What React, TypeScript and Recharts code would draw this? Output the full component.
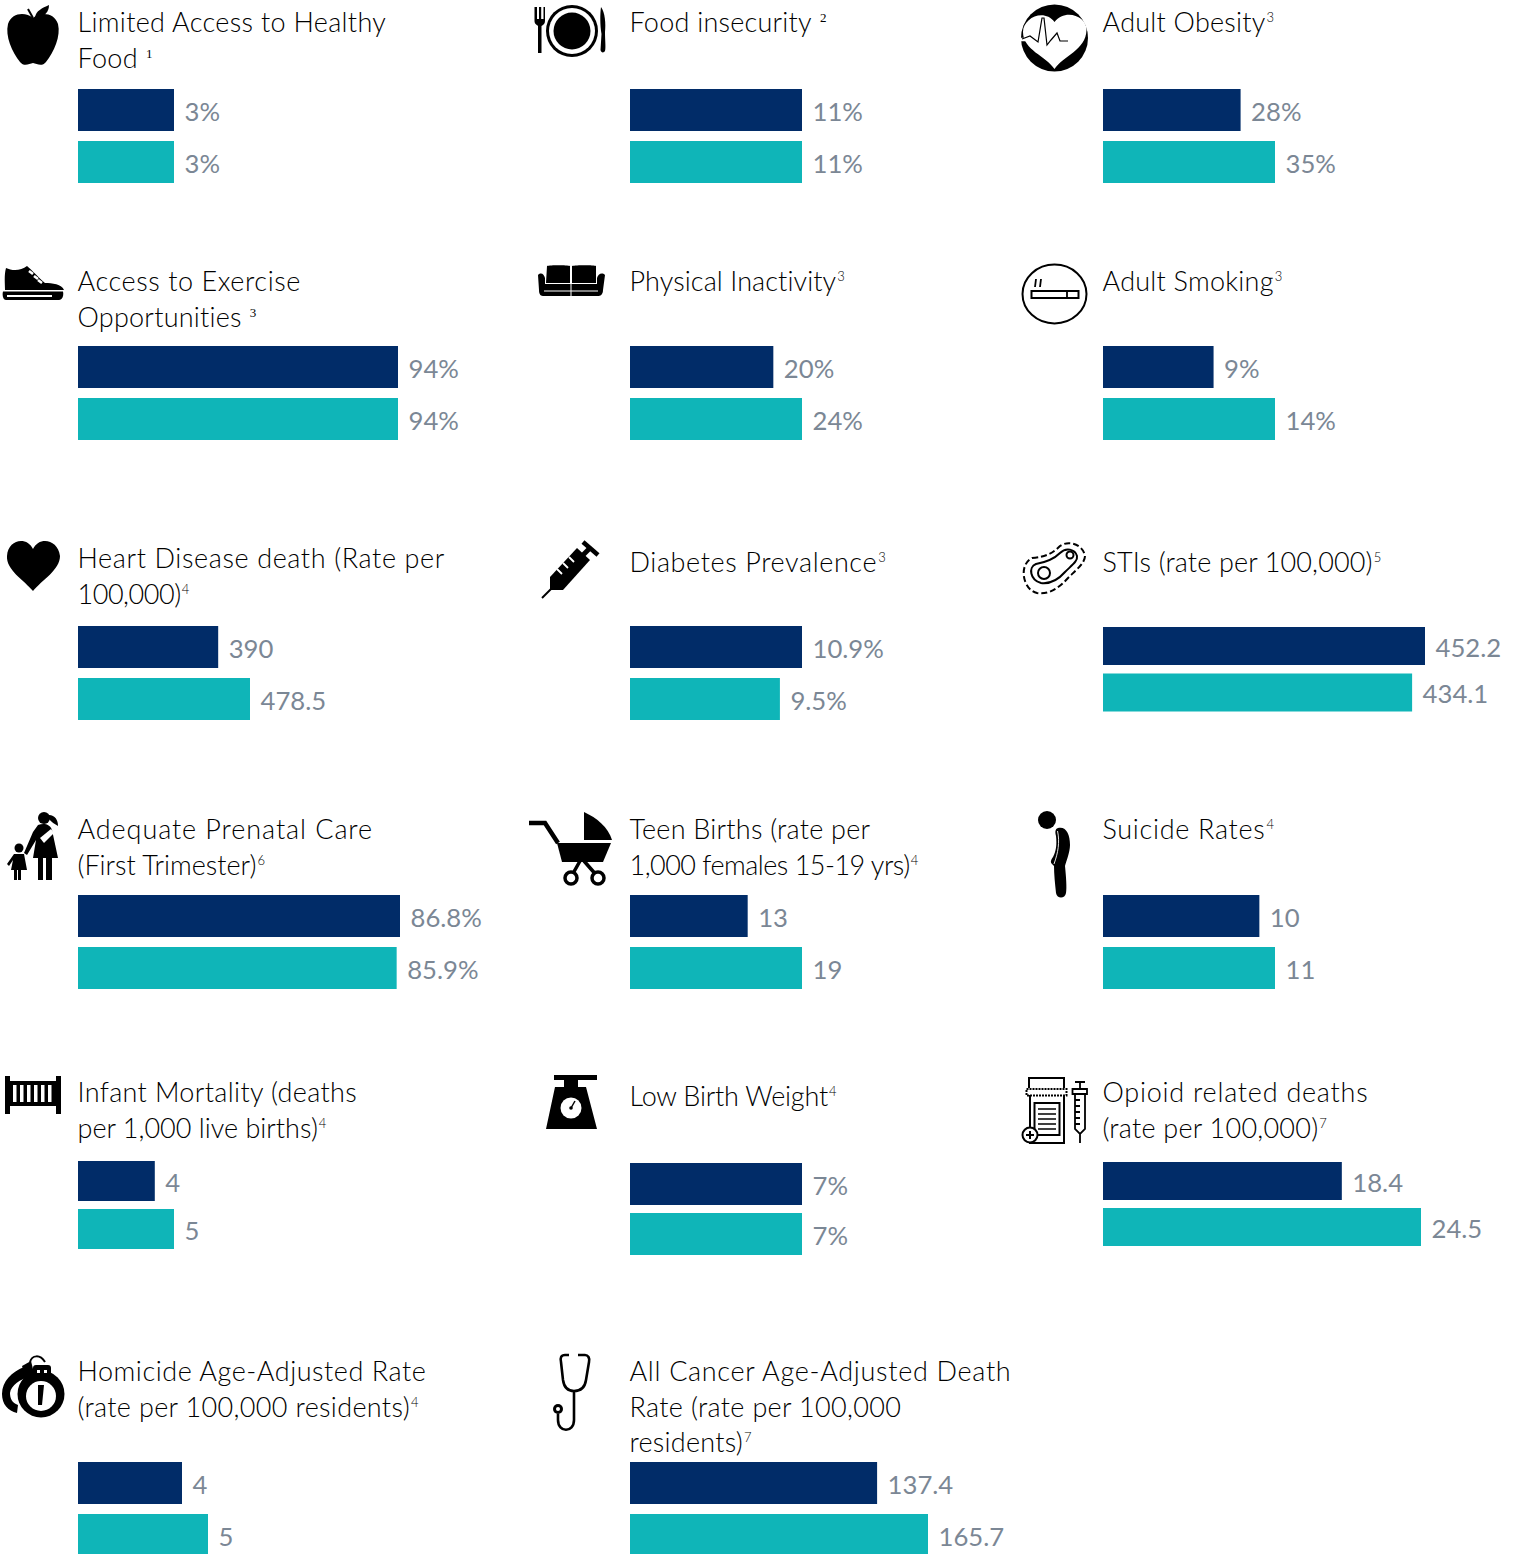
import React from 'react';
import { BarChart, Bar, Cell, XAxis, YAxis, LabelList } from 'recharts';

const measures = [
  'food', 'insecurity', 'obesity', 'exercise', 'inactivity', 'smoking', 'heart', 'diabetes', 'stis',
  'prenatal', 'teen', 'suicide', 'infant', 'lowbirth', 'opioid', 'homicide', 'cancer',
];
const titleLines = [
  ['Limited Access to Healthy', 'Food'], ['Food insecurity'], ['Adult Obesity'],
  ['Access to Exercise', 'Opportunities'], ['Physical Inactivity'], ['Adult Smoking'],
  ['Heart Disease death (Rate per', '100,000)'], ['Diabetes Prevalence'], ['STIs (rate per 100,000)'],
  ['Adequate Prenatal Care', '(First Trimester)'], ['Teen Births (rate per', '1,000 females 15-19 yrs)'], ['Suicide Rates'],
  ['Infant Mortality (deaths', 'per 1,000 live births)'], ['Low Birth Weight'], ['Opioid related deaths', '(rate per 100,000)'],
  ['Homicide Age-Adjusted Rate', '(rate per 100,000 residents)'], ['All Cancer Age-Adjusted Death', 'Rate (rate per 100,000', 'residents)'],
];
const footnotes = ['1', '2', '3', '3', '3', '3', '4', '3', '5', '6', '4', '4', '4', '4', '7', '4', '7'];
const spacedNote = [true, true, false, true, false, false, false, false, false, false, false, false, false, false, false, false, false];
const firstSeries = [3, 11, 28, 94, 20, 9, 390, 10.9, 452.2, 86.8, 13, 10, 4, 7, 18.4, 4, 137.4];
const secondSeries = [3, 11, 35, 94, 24, 14, 478.5, 9.5, 434.1, 85.9, 19, 11, 5, 7, 24.5, 5, 165.7];
const units = ['%', '%', '%', '%', '%', '%', '', '%', '', '%', '', '', '', '%', '', '', ''];

// Layout, one row per measure: column x, first title line centre, first bar top, bar height, bar pitch, longest bar px
const layout: number[][] = [
  [78, 22, 89, 42, 52, 96], [630, 22, 89, 42, 52, 172], [1103, 22, 89, 42, 52, 172],
  [78, 281, 346, 42, 52, 320], [630, 281, 346, 42, 52, 172], [1103, 281, 346, 42, 52, 172],
  [78, 558, 626, 42, 52, 172], [630, 562, 626, 42, 52, 172], [1103, 562, 627, 38, 46.5, 322],
  [78, 829, 895, 42, 52, 322], [630, 829, 895, 42, 52, 172], [1103, 829, 895, 42, 52, 172],
  [78, 1092, 1161, 40, 48, 96], [630, 1096, 1163, 42, 50, 172], [1103, 1092, 1162, 38, 46, 318],
  [78, 1371, 1462, 42, 52, 130], [630, 1371, 1462, 42, 52, 298],
];
// Per-line letter spacing, to bring the installed font to the reference's line widths
const tracking: number[][] = [
  [0.32, 0.34], [0.24], [0.24],
  [0.57, 0.24], [0.09], [0.24],
  [0.62, -0.46], [0.61], [0.14],
  [0.92, -0.01], [0.24, -0.51], [0.7],
  [0.36, 0.01], [-0.2], [0.76, 0.24],
  [0.54, 0.34], [0.69, 0.34, 0.24],
];

const NAVY = '#012c68';
const TEAL = '#0fb5b8';
const LABEL = '#7b8795';
const TEXT = '#000000';

function ValueLabel(p: any, unit: string) {
  return (
    <text
      x={p.x + p.width + 10.5}
      y={p.y + p.height / 2 + 0.8}
      dominantBaseline="central"
      fontFamily="Lato"
      fontSize={25.7}
      fill={LABEL}
    >
      {`${p.value}${unit}`}
    </text>
  );
}

function Panel({ i }: { i: number }) {
  const [x, , top, h, pitch, plot] = layout[i];
  const unit = units[i];
  const rows = [
    { name: 'first', value: firstSeries[i] },
    { name: 'second', value: secondSeries[i] },
  ];
  const gap = pitch - h;
  const max = Math.max(firstSeries[i], secondSeries[i]);
  return (
    <div style={{ position: 'absolute', left: x, top: top - gap / 2 }}>
      <BarChart
        width={plot + 130}
        height={pitch * 2}
        data={rows}
        layout="vertical"
        margin={{ top: 0, right: 130, bottom: 0, left: 0 }}
        barSize={h}
      >
        <XAxis type="number" domain={[0, max]} hide />
        <YAxis type="category" dataKey="name" hide />
        <Bar dataKey="value" isAnimationActive={false}>
          <Cell fill={NAVY} />
          <Cell fill={TEAL} />
          <LabelList dataKey="value" content={(p: any) => ValueLabel(p, unit)} />
        </Bar>
      </BarChart>
    </div>
  );
}

function Title({ i }: { i: number }) {
  const [x, cy] = layout[i];
  const lines = titleLines[i];
  return (
    <div
      style={{
        position: 'absolute', left: x - 0.5, top: cy - 18, fontFamily: 'Lato', fontSize: 27, fontWeight: 300,
        lineHeight: '35.7px', color: TEXT, whiteSpace: 'nowrap',
      }}
    >
      {lines.map((l, k) => (
        <div key={k} style={{ letterSpacing: tracking[i][k] }}>
          {l}
          {k === lines.length - 1 && (
            <span
              style={{
                fontSize: 13, position: 'relative', top: -10, marginLeft: spacedNote[i] ? 8 : 1, letterSpacing: 0,
                fontFamily: spacedNote[i] ? 'Liberation Serif' : 'Lato',
              }}
            >
              {footnotes[i]}
            </span>
          )}
        </div>
      ))}
    </div>
  );
}

function Icons() {
  return (
    <svg width={1518} height={1554} style={{ position: 'absolute', left: 0, top: 0 }}>
      {/* apple */}
      <path d="M33 18C26 12 12 12 8 24C5 36 12 52 20 62C24 67 29 64 33 63C37 64 42 67 46 62C54 52 61 36 58 24C54 12 40 12 33 18Z" />
      <path d="M35 17C36 11 42 8 49 5C49 12 44 18 35 17Z" />
      <path d="M28 9L33 18" stroke="#000" strokeWidth={2} fill="none" />
      {/* plate */}
      <circle cx={572} cy={31} r={26} />
      <circle cx={572} cy={31} r={23} fill="#fff" />
      <circle cx={572} cy={31} r={18.5} />
      <path d="M534.5 7V21C534.5 24 537 25 538 26V53H541.5V26C543 25 545 24 545 21V7H543.5V19H541.2V7H539V19H537V7Z" />
      <path d="M601 7C605 12 606 24 605 32C605 40 606 48 605 51C604 53 601 53 600.5 50L601.5 34C600 25 600 14 601 7Z" />
      {/* heart in circle */}
      <circle cx={1054.5} cy={38} r={33.5} />
      <path d="M1054.5 69C1046 56 1023 50 1023 32C1023 18 1044 8 1054.5 22C1065 8 1087 16 1086.5 30C1086 50 1063 56 1054.5 69Z" fill="#fff" />
      <path d="M1020 39.5H1031" stroke="#fff" strokeWidth={3.5} />
      <path d="M1022 39L1030 36L1038 42L1042 18H1044L1047 45L1051 40L1057 33L1060 41H1068" fill="none" stroke="#000" strokeWidth={1.2} />
      {/* shoe */}
      <path d="M6 268C12 271 21 271 27 266C31 269 39 278 45 283C52 283 62 284 64 290H5C5 283 4 275 6 268Z" />
      <path d="M3 291.5H63C64 296 62 300 59 300H6C3 300 2 295 3 291.5Z" />
      <path d="M7 296H52" stroke="#fff" strokeWidth={1.8} />
      <path d="M29 271L33 274M34 276L38 279M38 280L42 283" stroke="#fff" strokeWidth={2.6} />
      {/* couch */}
      <path d="M547 266C550 265 567 265 570 266V283H546ZM572 266C576 265 594 265 596 266V283H572Z" />
      <path d="M538 275C541 272 544 274 545 278V284H597V278C598 274 602 272 605 275L603 290C603 295 600 296 598 296H544C541 296 539 295 539 290Z" />
      <path d="M544 291H598M571 284V296" stroke="#fff" strokeWidth={1} />
      {/* smoking */}
      <ellipse cx={1054.5} cy={294} rx={32} ry={29.5} fill="none" stroke="#000" strokeWidth={2} />
      <rect x={1031.5} y={291} width={47} height={7} fill="none" stroke="#000" strokeWidth={2} />
      <path d="M1067 291V298M1036 279L1035 287M1041 279L1040 287" stroke="#000" strokeWidth={1.8} />
      {/* heart */}
      <path d="M33 591C24 580 6 570 7 556C8 539 27 536 33 549C39 536 58 539 60 556C60 570 42 580 33 591Z" />
      {/* syringe */}
      <path d="M550 577L577 548L590 560L563 590H550Z" />
      <path d="M551 589L542 598" stroke="#000" strokeWidth={2} />
      <path d="M583 542L598 555" stroke="#000" strokeWidth={4.5} />
      <path d="M590 548L582 556" stroke="#000" strokeWidth={5} />
      <path d="M557 569L562 574M563 563L568 568M569 557L574 562" stroke="#fff" strokeWidth={1.8} />
      {/* meat */}
      <path d="M1036 564C1047 562 1054 559 1060 553C1066 547 1075 549 1077 556C1078 561 1072 565 1065 572C1058 580 1049 584 1041 583C1030 580 1028 567 1036 564Z" fill="none" stroke="#000" strokeWidth={2} />
      <path d="M1032 558C1046 557 1053 553 1060 546C1068 540 1083 544 1085 556C1085 563 1076 570 1068 578C1059 588 1049 595 1037 593C1023 590 1018 565 1032 558Z" fill="none" stroke="#000" strokeWidth={2} strokeDasharray="6 3" />
      <circle cx={1044} cy={573} r={6} fill="none" stroke="#000" strokeWidth={2} />
      <circle cx={1070} cy={555} r={3.5} fill="none" stroke="#000" strokeWidth={2} />
      {/* mother and child */}
      <circle cx={44} cy={818} r={6} />
      <path d="M49 815C55 815 58 820 58 826C55 824 51 822 49 819Z" />
      <path d="M38 825C44 823 50 824 52 830L58 858H33L36 840L27 855L24 853L33 832Z" />
      <path d="M38 858H43V880H38ZM46 858H52V880H46Z" />
      <path d="M40 838L51 829L54 833L44 843Z" fill="#fff" />
      <circle cx={19} cy={848} r={4.5} />
      <path d="M14 854H24L27 870H21V880H18V870H17V880H14V870H11L13 860L9 866L7 864Z" />
      {/* pram */}
      <path d="M529 823H545L558 843" fill="none" stroke="#000" strokeWidth={4.5} />
      <path d="M557 843H611L603 862H562Z" />
      <path d="M584 812C597 818 608 827 612 840H584Z" />
      <path d="M580 861L571 877M584 861L598 877" stroke="#000" strokeWidth={3.5} />
      <circle cx={571} cy={878} r={6} fill="#fff" stroke="#000" strokeWidth={3.5} />
      <circle cx={598} cy={878} r={6} fill="#fff" stroke="#000" strokeWidth={3.5} />
      {/* person */}
      <circle cx={1047} cy={820} r={9} />
      <path d="M1058 828C1066 826 1070 834 1070 845C1070 852 1066 862 1065 866C1066 876 1067 888 1066 893C1065 899 1057 899 1056 893C1055 884 1054 874 1054 866L1052 864C1050 862 1051 860 1053 857C1056 851 1057 845 1056 836C1055 832 1055 829 1058 828Z" />
      <path d="M1057.5 831C1060 842 1058 853 1054 864" fill="none" stroke="#fff" strokeWidth={0.9} />
      {/* crib */}
      <path d="M5 1076H10V1081H56V1076H61V1114H56V1106H10V1114H5Z" />
      <path d="M13 1085H16.5V1102H13ZM20 1085H23.5V1102H20ZM27 1085H30.5V1102H27ZM34 1085H37.5V1102H34ZM41 1085H44.5V1102H41ZM48 1085H51.5V1102H48Z" fill="#fff" />
      {/* scale */}
      <path d="M554 1075H597V1080H578V1087H586L597 1129H546L555 1087H564V1080H554Z" />
      <circle cx={571} cy={1108} r={10.5} fill="#fff" />
      <circle cx={571} cy={1108} r={1.8} />
      <path d="M571 1108L575 1101" stroke="#000" strokeWidth={1.5} />
      {/* opioid */}
      <path d="M1029 1088V1078H1064V1088M1030 1095V1143H1064V1095" fill="none" stroke="#000" strokeWidth={2} />
      <rect x={1026.5} y={1089} width={40} height={6.5} fill="none" stroke="#000" strokeWidth={2} strokeDasharray="2 1" />
      <rect x={1034.5} y={1103} width={25} height={32} fill="none" stroke="#000" strokeWidth={2} />
      <path d="M1038 1109H1056M1038 1114H1056M1038 1119H1056M1038 1124H1056M1038 1129H1056" stroke="#000" strokeWidth={1.5} />
      <circle cx={1030} cy={1135} r={7.5} fill="#fff" stroke="#000" strokeWidth={2} />
      <path d="M1026 1135H1034M1030 1131V1139" stroke="#000" strokeWidth={2} />
      <path d="M1075 1082H1085M1080 1082V1089M1072.5 1089H1087V1094H1072.5ZM1075 1094V1129L1080 1134L1085 1129V1094M1080 1134V1143M1075 1100H1080M1075 1106H1080M1075 1112H1080M1075 1118H1080M1075 1124H1080" fill="none" stroke="#000" strokeWidth={1.8} />
      {/* handcuffs */}
      <path d="M24 1367C12 1372 2 1381 2 1394C2 1404 8 1411 17 1413L18 1405C12 1403 10 1398 10 1393C11 1385 21 1379 29 1377Z" />
      <path d="M22 1366L31 1361L34 1373L26 1378Z" />
      <path d="M30 1362C32 1355 40 1354 45 1362" fill="none" stroke="#000" strokeWidth={2} />
      <circle cx={41} cy={1394} r={23.5} />
      <circle cx={41} cy={1396} r={15} fill="#fff" />
      <rect x={33} y={1365} width={18} height={12} rx={3} />
      <rect x={37} y={1370} width={3} height={3} fill="#fff" />
      <rect x={44} y={1370} width={3} height={3} fill="#fff" />
      <path d="M38 1385H44L42 1405H38Z" />
      {/* stethoscope */}
      <path d="M569 1355H565C561 1355 560 1358 561 1362L563 1380C564 1387 568 1391 574 1391C581 1391 585 1387 586 1380L589 1362C590 1358 588 1355 585 1355H578" fill="none" stroke="#000" strokeWidth={2.6} />
      <path d="M574 1391V1420C574 1433 558 1433 558 1420V1414" fill="none" stroke="#000" strokeWidth={2.6} />
      <circle cx={558} cy={1409} r={5} />
      <circle cx={558} cy={1409} r={2} fill="#fff" />
    </svg>
  );
}

export default function App() {
  return (
    <div style={{ position: 'fixed', left: 0, top: 0, width: 1518, height: 1554, overflow: 'hidden', background: '#fff' }}>
      <Icons />
      {measures.map((m, i) => (
        <React.Fragment key={m}>
          <Title i={i} />
          <Panel i={i} />
        </React.Fragment>
      ))}
    </div>
  );
}
